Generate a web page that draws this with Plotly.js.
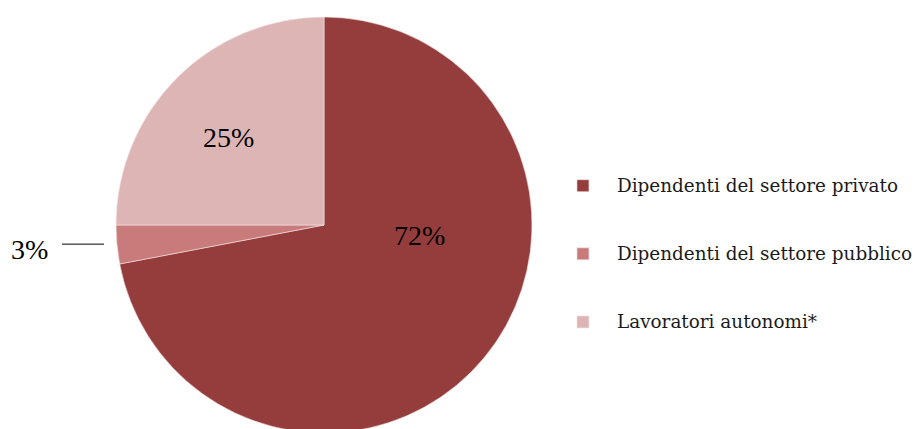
<!DOCTYPE html>
<html>
<head>
<meta charset="utf-8">
<script src="https://cdn.plot.ly/plotly-3.0.1.min.js"></script>
<style>
html,body{margin:0;padding:0;overflow:hidden;background:#fff;}
#chart{width:918px;height:433px;}
</style>
</head>
<body>
<div id="chart"></div>
<script>
const categories = ["Dipendenti del settore privato", "Dipendenti del settore pubblico", "Lavoratori autonomi*"];
const values = [72, 3, 25];
const colors = ["#953C3C", "#C97B7B", "#DDB5B5"];

// label placement (paper fractions) for each slice's percentage
const labelPos = [[0.4575, 0.4736], [0.0316, 0.44], [0.2484, 0.7115]];

const legendLabels = categories.map(c => '<br><span style="font-size:18.4px">' + c + '</span><br> ');

const trace = {
  type: 'pie',
  labels: legendLabels,
  values: values,
  sort: false,
  direction: 'clockwise',
  rotation: 0,
  marker: {colors: colors, line: {color: '#f4e6e6', width: 0.6}},
  textinfo: 'none',
  hoverinfo: 'percent',
  domain: {x: [116/918, 532/918], y: [0, 1]},
  showlegend: true
};

const annotations = values.map((v, i) => ({
  xref: 'paper', yref: 'paper', x: labelPos[i][0], y: labelPos[i][1],
  xanchor: 'center', yanchor: 'middle',
  text: v + '%', showarrow: false,
  font: {family: 'Liberation Serif', size: 28, color: '#000'}
}));

const layout = {
  width: 918, height: 433,
  margin: {l: 0, r: 0, t: 17, b: 0, autoexpand: false},
  paper_bgcolor: '#fff',
  showlegend: true,
  legend: {
    x: 0.598, xanchor: 'left', y: 0.43, yanchor: 'middle',
    font: {family: 'DejaVu Serif', size: 16.7, color: '#1a1a1a'},
    itemwidth: 58, bgcolor: 'rgba(0,0,0,0)'
  },
  annotations: annotations,
  shapes: [{
    type: 'line', xref: 'paper', yref: 'paper',
    x0: 62/918, x1: 104/918, y0: 0.454, y1: 0.454,
    line: {color: '#000', width: 1}
  }]
};

Plotly.newPlot('chart', [trace], layout, {displayModeBar: false, staticPlot: true});
</script>
</body>
</html>
